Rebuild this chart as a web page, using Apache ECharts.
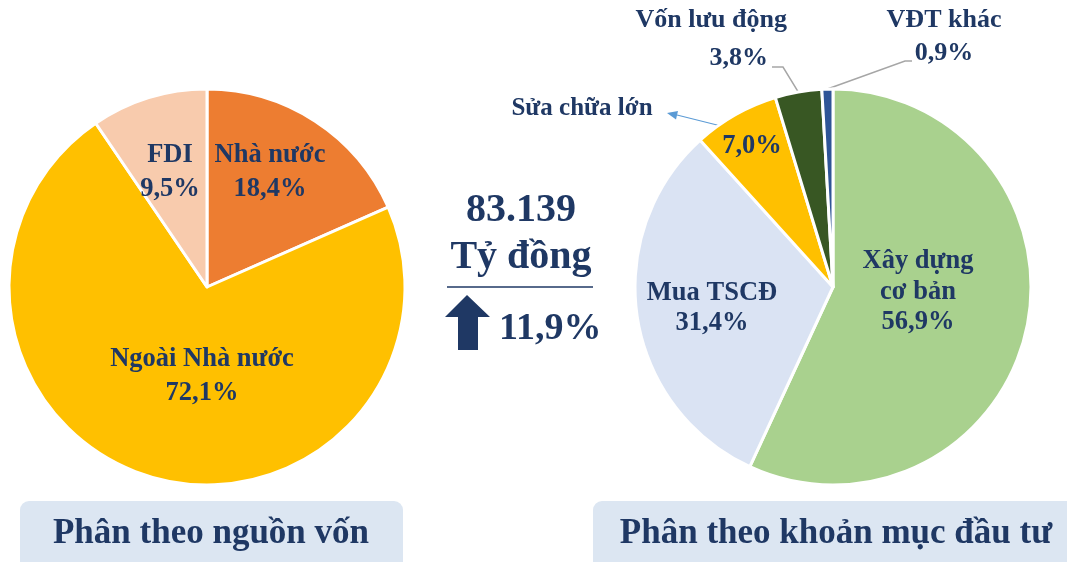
<!DOCTYPE html>
<html>
<head>
<meta charset="utf-8">
<script src="https://cdn.jsdelivr.net/npm/echarts@6/dist/echarts.min.js"></script>
<style>
  html, body { margin: 0; padding: 0; background: #fff; }
  #main { width: 1067px; height: 562px; }
</style>
</head>
<body>
<div id="main"></div>
<script>
  // số liệu
  const sourceNames = ['Nhà nước', 'Ngoài Nhà nước', 'FDI'];
  const sourceValues = [18.4, 72.1, 9.5];
  const itemNames = ['Xây dựng cơ bản', 'Mua TSCĐ', 'Sửa chữa lớn', 'Vốn lưu động', 'VĐT khác'];
  const itemValues = [56.9, 31.4, 7.0, 3.8, 0.9];
  const totalText = '83.139';
  const unitText = 'Tỷ đồng';
  const growthText = '11,9%';
  const leftTitle = 'Phân theo nguồn vốn';
  const rightTitle = 'Phân theo khoản mục đầu tư';

  const sourceColors = ['#ED7D31', '#FFC000', '#F8CBAD'];
  const itemColors = ['#A9D18E', '#DAE3F3', '#FFC000', '#385723', '#2F5597'];

  const NAVY = '#1F3864';
  const FONT = "'Liberation Serif', 'Times New Roman', serif";

  const pct = v => v.toFixed(1).replace('.', ',') + '%';

  // vị trí nhãn
  const leftLabelPos = [[270, 172], [202, 376], [170, 172]];
  const rightLabelPos = [[918, 292], [712, 308], [752, 146], [787, 39], [944, 36]];

  let chart = echarts.init(document.getElementById('main'));

  const labelBase = {
    color: NAVY,
    fontFamily: FONT,
    fontWeight: 'bold',
    fontSize: 26.5
  };

  let option = {
    animation: false,
    backgroundColor: '#fff',
    graphic: [
      { type: 'rect', shape: { x: 20, y: 501, width: 383, height: 70, r: 9 }, style: { fill: '#DCE6F2' } },
      { type: 'rect', shape: { x: 593, y: 501, width: 490, height: 70, r: 9 }, style: { fill: '#DCE6F2' } },
      { type: 'text', x: 211, y: 534, style: { text: leftTitle, fill: NAVY, font: 'bold 35px ' + FONT, textAlign: 'center', textVerticalAlign: 'middle' } },
      { type: 'text', x: 836, y: 534, style: { text: rightTitle, fill: NAVY, font: 'bold 35px ' + FONT, textAlign: 'center', textVerticalAlign: 'middle' } },
      { type: 'text', x: 521, y: 211, style: { text: totalText, fill: NAVY, font: 'bold 40px ' + FONT, textAlign: 'center', textVerticalAlign: 'middle' } },
      { type: 'text', x: 521, y: 258, style: { text: unitText, fill: NAVY, font: 'bold 40px ' + FONT, textAlign: 'center', textVerticalAlign: 'middle' } },
      { type: 'line', shape: { x1: 447, y1: 287, x2: 593, y2: 287 }, style: { stroke: NAVY, lineWidth: 1.5 } },
      { type: 'polygon', shape: { points: [[467, 295], [445, 317], [458, 317], [458, 350], [478, 350], [478, 317], [490, 317]] }, style: { fill: NAVY } },
      { type: 'text', x: 499, y: 329, style: { text: growthText, fill: NAVY, font: 'bold 38px ' + FONT, textAlign: 'left', textVerticalAlign: 'middle' } },
      // chú thích Sửa chữa lớn
      { type: 'text', x: 582, y: 109, style: { text: itemNames[2], fill: NAVY, font: 'bold 25px ' + FONT, textAlign: 'center', textVerticalAlign: 'middle' } },
      { type: 'line', shape: { x1: 725, y1: 127, x2: 677, y2: 115 }, style: { stroke: '#5B9BD5', lineWidth: 1.2 } },
      { type: 'polygon', shape: { points: [[667, 113], [678, 111], [676, 119.5]] }, style: { fill: '#5B9BD5' } }
    ],
    series: [
      {
        type: 'pie',
        center: [207, 287],
        radius: 198,
        startAngle: 90,
        avoidLabelOverlap: false,
        itemStyle: { borderColor: '#fff', borderWidth: 3 },
        label: Object.assign({ position: 'inside', lineHeight: 34, formatter: p => p.name + '\n' + pct(p.value) }, labelBase),
        labelLine: { show: false },
        labelLayout: p => {
          const pos = leftLabelPos[p.dataIndex];
          return { x: pos[0], y: pos[1], align: 'center', verticalAlign: 'middle' };
        },
        emphasis: { disabled: true },
        data: sourceNames.map((n, i) => ({ name: n, value: sourceValues[i], itemStyle: { color: sourceColors[i] } }))
      },
      {
        type: 'pie',
        center: [833, 287],
        radius: 198,
        startAngle: 90,
        avoidLabelOverlap: false,
        itemStyle: { borderColor: '#fff', borderWidth: 3 },
        label: Object.assign({ position: 'inside', lineHeight: 30.5 }, labelBase),
        labelLine: { show: false },
        labelLayout: p => {
          const i = p.dataIndex;
          const pos = rightLabelPos[i];
          const o = { x: pos[0], y: pos[1], align: i === 3 ? 'right' : 'center', verticalAlign: 'middle' };
          if (i === 3 && p.labelLinePoints) o.labelLinePoints = [p.labelLinePoints[0], [783, 67], [772, 67]];
          if (i === 4 && p.labelLinePoints) o.labelLinePoints = [p.labelLinePoints[0], [905, 61], [912, 61]];
          return o;
        },
        emphasis: { disabled: true },
        data: itemNames.map((n, i) => {
          const d = { name: n, value: itemValues[i], itemStyle: { color: itemColors[i] } };
          if (i === 0) d.label = { formatter: p => p.name.replace('Xây dựng ', 'Xây dựng\n') + '\n' + pct(p.value) };
          else if (i === 1) d.label = { formatter: p => p.name + '\n' + pct(p.value) };
          else if (i === 2) d.label = { formatter: p => pct(p.value) };
          else {
            d.label = {
              position: 'outside',
              formatter: p => '{n|' + p.name + '}\n{v|' + pct(p.value) + '}',
              rich: {
                n: { color: NAVY, fontFamily: FONT, fontWeight: 'bold', fontSize: 26, lineHeight: i === 3 ? 38 : 34 },
                v: { color: NAVY, fontFamily: FONT, fontWeight: 'bold', fontSize: 26, lineHeight: i === 3 ? 38 : 32, padding: i === 3 ? [0, 19, 0, 0] : 0 }
              }
            };
            d.labelLine = { show: true, length: 10, length2: 10, lineStyle: { color: '#A6A6A6', width: 1.5 } };
          }
          return d;
        })
      }
    ]
  };
  chart.setOption(option);
</script>
</body>
</html>
